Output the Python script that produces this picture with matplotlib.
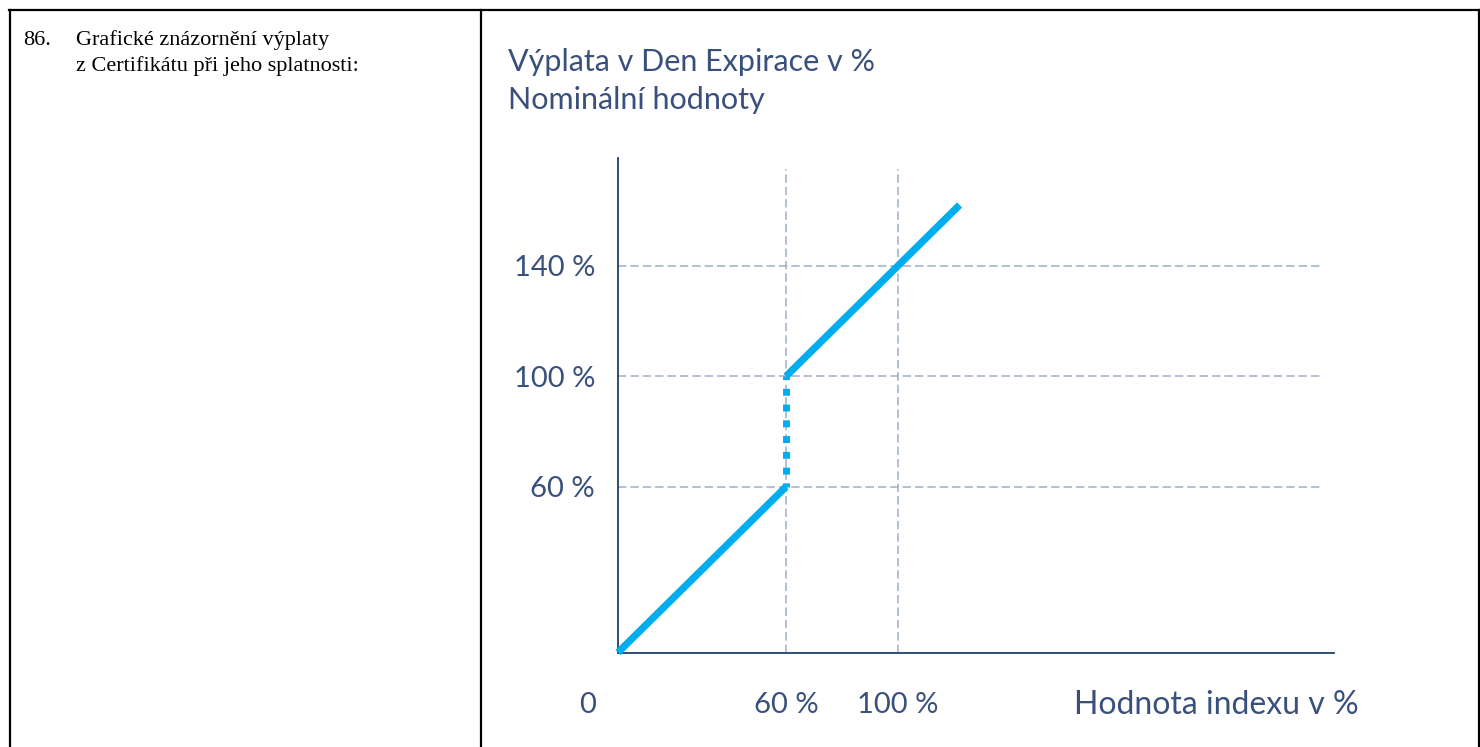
import matplotlib.pyplot as plt
from matplotlib.lines import Line2D

# payoff data (index value in %, payout in %)
low_x = [0, 60]
low_y = [0, 60]
jump_x = [60, 60]
jump_y = [100, 60]
high_x = [60, 122]
high_y = [100, 162]

grid_y = [60, 100, 140]
grid_x = [60, 100]
ytick_labels = ["60 %", "100 %", "140 %"]
xtick_labels = ["60 %", "100 %"]

title_1 = "Výplata v Den Expirace v %"
title_2 = "Nominální hodnoty"
xlabel = "Hodnota indexu v %"
item_no = "86."
left_text = "Grafické znázornění výplaty\nz Certifikátu při jeho splatnosti:"

W, H = 1480, 747
BLUE = "#00aeef"
NAVY = "#1f3f6e"
GRID = "#9eadc9"
TXT = "#3a507c"

fig = plt.figure(figsize=(W / 100, H / 100), dpi=100)

# axes placed in pixel units of the picture
x0, x1 = 618, 1334
y0, y1 = 652.5, 158
ax = fig.add_axes([x0 / W, (H - y0) / H, (x1 - x0) / W, (y0 - y1) / H])
ax.set_xlim(0, (x1 - x0) / 2.8)
ax.set_ylim(0, (y0 - y1) / 2.7625)

for s in ["top", "right"]:
    ax.spines[s].set_visible(False)
for s in ["left", "bottom"]:
    ax.spines[s].set_color(NAVY)
    ax.spines[s].set_linewidth(1.3)

# dashed guide lines
ax.hlines(grid_y, 0, 251, colors=GRID, linewidth=1.1, linestyles=(0, (5.5, 2.6)), zorder=1)
ax.vlines(grid_x, 0, 175, colors=GRID, linewidth=1.1, linestyles=(0, (5.5, 2.6)), zorder=1)

# payoff lines
ax.plot(low_x, low_y, color=BLUE, linewidth=5.2, solid_capstyle="butt", clip_on=False, zorder=3)
ax.plot(high_x, high_y, color=BLUE, linewidth=5.2, solid_capstyle="butt", clip_on=False, zorder=3)
ax.plot(jump_x, jump_y, color=BLUE, linewidth=5, linestyle=(0.5, (1, 1.27)),
        dash_capstyle="butt", zorder=3)

ax.set_yticks(grid_y)
ax.set_yticklabels(ytick_labels)
ax.set_xticks(grid_x)
ax.set_xticklabels(xtick_labels)
ax.tick_params(axis="both", length=0, labelsize=21, labelcolor=TXT)
ax.tick_params(axis="y", pad=16.5)
ax.tick_params(axis="x", pad=28.5)
for lab in ax.get_xticklabels() + ax.get_yticklabels():
    lab.set_fontfamily("Lato")

ax.text(-10.7, -19, "0", ha="center", va="center", fontsize=21, color=TXT,
        family="Lato", clip_on=False)
ax.text(163, -19, xlabel, ha="left", va="center", fontsize=23, color=TXT,
        family="Lato", clip_on=False)

fig.text(508 / W, 1 - 71 / H, title_1, ha="left", va="baseline", fontsize=22,
         color=TXT, family="Lato")
fig.text(508 / W, 1 - 109 / H, title_2, ha="left", va="baseline", fontsize=22,
         color=TXT, family="Lato")

# left cell text
fig.text(23 / W, 1 - 45 / H, item_no, ha="left", va="baseline", fontsize=16,
         family="Liberation Serif", color="black")
fig.text(76 / W, 1 - 45 / H, left_text.split("\n")[0], ha="left", va="baseline",
         fontsize=16, family="Liberation Serif", color="black")
fig.text(76 / W, 1 - 71 / H, left_text.split("\n")[1], ha="left", va="baseline",
         fontsize=16, family="Liberation Serif", color="black")

# table frame
def frame_line(xs, ys):
    fig.add_artist(Line2D([x / W for x in xs], [1 - y / H for y in ys],
                          transform=fig.transFigure, color="black", linewidth=1.6))

frame_line([9, 1479], [10, 10])
frame_line([9.5, 9.5], [10, 747])
frame_line([481.5, 481.5], [10, 747])
frame_line([1478.5, 1478.5], [10, 747])

fig.savefig("out.png", dpi=100)
